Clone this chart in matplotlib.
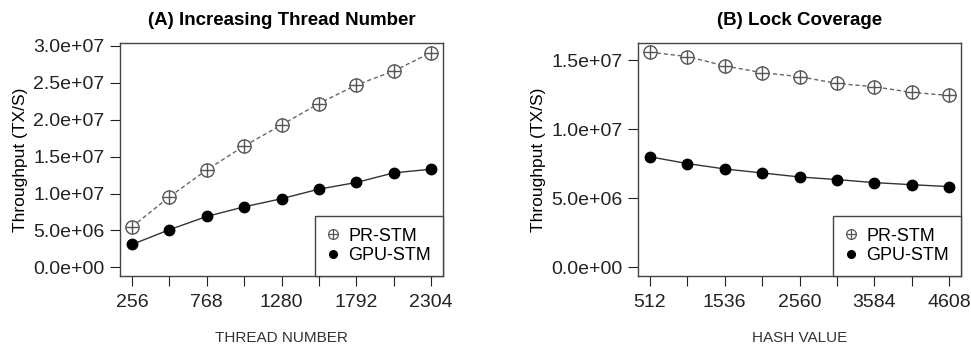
import matplotlib
matplotlib.use("Agg")
import matplotlib.pyplot as plt
from matplotlib.lines import Line2D

plt.rcParams['font.family'] = ['Liberation Sans', 'DejaVu Sans']

threads = [256, 512, 768, 1024, 1280, 1536, 1792, 2048, 2304]
thread_ticks = [256, 768, 1280, 1792, 2304]
pr_threads = [5.5e6, 9.55e6, 13.2e6, 16.45e6, 19.3e6, 22.2e6, 24.7e6, 26.6e6, 29.1e6]
gpu_threads = [3.1e6, 5.1e6, 6.9e6, 8.2e6, 9.3e6, 10.6e6, 11.5e6, 12.8e6, 13.3e6]

hashes = [512, 1024, 1536, 2048, 2560, 3072, 3584, 4096, 4608]
hash_ticks = [512, 1536, 2560, 3584, 4608]
pr_hash = [15.58e6, 15.27e6, 14.59e6, 14.1e6, 13.81e6, 13.32e6, 13.08e6, 12.67e6, 12.45e6]
gpu_hash = [8.0e6, 7.51e6, 7.12e6, 6.83e6, 6.54e6, 6.35e6, 6.13e6, 5.98e6, 5.84e6]

fig = plt.figure(figsize=(9.71, 3.5), dpi=100)
W, H = 971, 350

def make_ax(left, right, top, bottom):
    return fig.add_axes([left / W, 1 - bottom / H, (right - left) / W, (bottom - top) / H])

PR_COL = '#555555'

def draw(ax, x, pr, gpu, xticks, yticks, ylabels, xlim, ylim, title, xlabel):
    ax.plot(x, pr, linestyle=(0, (3, 2)), color='#666666', lw=1.0, zorder=2)
    ax.plot(x, pr, linestyle='none', marker='o', ms=9.5, mfc='white', mec=PR_COL, mew=1.0, zorder=3)
    ax.plot(x, pr, linestyle='none', marker='+', ms=9.5, mec=PR_COL, mew=1.0, zorder=4)
    ax.plot(x, gpu, color='#333333', lw=1.0, zorder=2)
    ax.plot(x, gpu, linestyle='none', marker='o', ms=7.5, color='black', zorder=3)
    ax.set_xlim(*xlim)
    ax.set_ylim(*ylim)
    ax.set_xticks(x)
    ax.set_xticklabels([str(v) if v in xticks else '' for v in x])
    ax.set_yticks(yticks)
    ax.set_yticklabels(ylabels)
    ax.tick_params(direction='out', length=7, width=0.8, labelsize=14, pad=4, colors='#222222')
    ax.tick_params(axis='x', pad=6)
    for s in ax.spines.values():
        s.set_color('#444444')
        s.set_linewidth(1.0)
    ax.set_title(title, fontsize=13.5, fontweight='bold', pad=13)
    ax.set_ylabel('Throughput (TX/S)', fontsize=12.5)
    ax.set_xlabel(xlabel, fontsize=11, labelpad=14, color='#333333')
    h1 = (Line2D([], [], linestyle='none', marker='o', ms=7, mfc='white', mec=PR_COL, mew=0.9),
          Line2D([], [], linestyle='none', marker='+', ms=7, mec=PR_COL, mew=0.9))
    h2 = Line2D([], [], linestyle='none', marker='o', ms=5.5, color='black')
    leg = ax.legend([h1, h2], ['PR-STM', 'GPU-STM'], loc='lower right', borderaxespad=0,
                    fancybox=False, framealpha=1, edgecolor='#444444', fontsize=13,
                    handlelength=0.7, handletextpad=0.5, borderpad=0.65, labelspacing=0.15)
    leg.get_frame().set_linewidth(1.0)

ax1 = make_ax(120, 443, 43, 276)
draw(ax1, threads, pr_threads, gpu_threads, thread_ticks,
     [0, 5e6, 10e6, 15e6, 20e6, 25e6, 30e6],
     ['0.0e+00', '5.0e+06', '1.0e+07', '1.5e+07', '2.0e+07', '2.5e+07', '3.0e+07'],
     (174, 2386), (-1.17e6, 3.04e7), '(A) Increasing Thread Number', 'THREAD NUMBER')

ax2 = make_ax(638, 961, 43, 276)
draw(ax2, hashes, pr_hash, gpu_hash, hash_ticks,
     [0, 5e6, 10e6, 15e6],
     ['0.0e+00', '5.0e+06', '1.0e+07', '1.5e+07'],
     (348, 4772), (-0.64e6, 16.25e6), '(B) Lock Coverage', 'HASH VALUE')

fig.savefig('out.png', dpi=100)
